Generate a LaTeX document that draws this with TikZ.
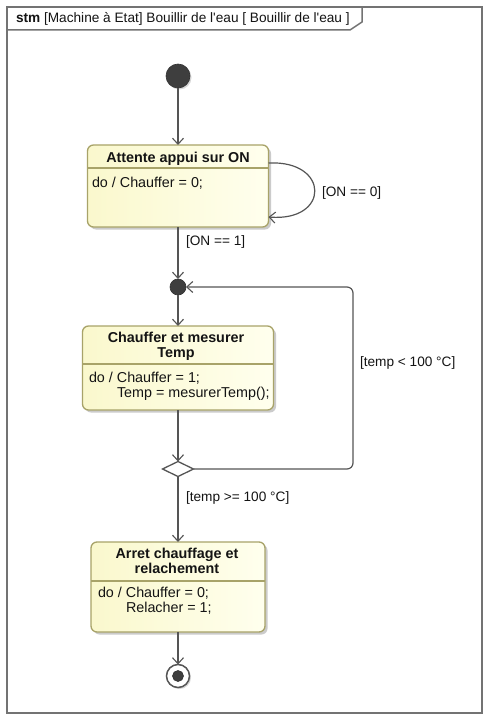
\documentclass[tikz,border=0pt]{standalone}
\usepackage{fontspec}
\setmainfont{Liberation Sans}[Ligatures=TeXOff]
\usetikzlibrary{arrows.meta,shapes.geometric,shadows}
\definecolor{linec}{RGB}{85,85,85}
\definecolor{framec}{RGB}{115,115,115}
\definecolor{stborder}{RGB}{168,163,105}
\definecolor{stfillA}{RGB}{250,248,205}
\definecolor{stfillB}{RGB}{255,255,238}
\definecolor{dotc}{RGB}{62,62,62}
\definecolor{txtc}{RGB}{20,20,20}
\begin{document}
\begin{tikzpicture}[x=1bp,y=-1bp,
  every node/.style={inner sep=0pt,outer sep=0pt,text=txtc},
  txt/.style={font=\fontsize{14.4}{16}\selectfont, anchor=base west},
  lbl/.style={font=\fontsize{13.7}{16}\selectfont, anchor=base west},
  ttl/.style={font=\bfseries\fontsize{14.4}{16}\selectfont, anchor=base},
  stbox/.style={draw=stborder, line width=1.3bp, rounded corners=6bp,
    left color=stfillA, right color=stfillB,
    drop shadow={shadow xshift=2.5bp,shadow yshift=-2.5bp,fill=black!40,opacity=0.5}},
  sepline/.style={draw=stborder, line width=1.1bp},
  trans/.style={draw=linec, line width=1.2bp, -{Straight Barb[length=6bp,width=11bp,line width=1.1bp]}},
  dotnode/.style={circle, fill=dotc, draw=dotc!80!black, line width=0.6bp},
  framestyle/.style={draw=framec, line width=1.5bp},
]
\useasboundingbox (0,0) rectangle (487,717);
\fill[white] (0,0) rectangle (487,717);

% frame
\draw[framestyle] (7,7) rectangle (482,713);
\draw[framestyle] (7,30) -- (350,30) -- (362,22) -- (362,7);
\node[lbl] (hdr) at (16,23) {\textbf{stm} [Machine à Etat] Bouillir de l'eau [ Bouillir de l'eau ]};

% initial state
\node[dotnode, minimum size=24bp,
  drop shadow={shadow xshift=1.5bp,shadow yshift=-1.5bp,fill=black!40,opacity=0.4}] (init) at (178,76) {};

% state 1
\node[stbox, minimum width=181bp, minimum height=82bp] (s1) at (178,186) {};
\draw[sepline] ([yshift=-23bp]s1.north west) -- ([yshift=-23bp]s1.north east);
\node[ttl] (t1) at (178,162) {Attente appui sur ON};
\node[txt] (b1) at (92,187) {do / Chauffer = 0;};

% junction
\node[dotnode, minimum size=16bp] (j1) at (178,287) {};

% state 2
\node[stbox, minimum width=191bp, minimum height=84bp] (s2) at (178,368) {};
\draw[sepline] ([yshift=-38bp]s2.north west) -- ([yshift=-38bp]s2.north east);
\node[ttl] (t2a) at (176,342) {Chauffer et mesurer};
\node[ttl] (t2b) at (176,357) {Temp};
\node[txt] (b2a) at (89,382) {do / Chauffer = 1;};
\node[txt] (b2b) at (117,397) {Temp = mesurerTemp();};

% choice
\node[diamond, draw=linec, fill=white, line width=1.3bp, minimum width=31bp, minimum height=15bp] (d) at (178,469) {};

% state 3
\node[stbox, minimum width=174bp, minimum height=90bp] (s3) at (178,587) {};
\draw[sepline] ([yshift=-39bp]s3.north west) -- ([yshift=-39bp]s3.north east);
\node[ttl] (t3a) at (177,558) {Arret chauffage et};
\node[ttl] (t3b) at (177,573) {relachement};
\node[txt] (b3a) at (98,597) {do / Chauffer = 0;};
\node[txt] (b3b) at (126,612) {Relacher = 1;};

% final state
\node[circle, draw=linec, fill=white, line width=1.5bp, minimum size=23bp,
  drop shadow={shadow xshift=1.5bp,shadow yshift=-1.5bp,fill=black!40,opacity=0.4}] (f) at (178,676) {};
\node[dotnode, minimum size=11bp] (fin) at (178,676) {};

% transitions
\draw[trans] (init) -- (s1);
\draw[trans] ([yshift=23bp]s1.east) .. controls (330,160) and (330,222) .. ([yshift=-31bp]s1.east);
\node[lbl] (l0) at (322,196) {[ON == 0]};
\draw[trans] (s1) -- (j1);
\node[lbl] (l1) at (186,245) {[ON == 1]};
\draw[trans] (j1) -- (s2);
\draw[trans] (s2) -- (d);
\coordinate (c1) at (353,469);
\coordinate (c2) at (353,287);
\draw[trans, rounded corners=6bp] (d.east) -- (c1) -- (c2) -- (j1);
\node[lbl] (l2) at (360,366) {[temp < 100 °C]};
\draw[trans] (d) -- (s3);
\node[lbl] (l3) at (186,501) {[temp >= 100 °C]};
\draw[trans] (s3) -- (f);
\end{tikzpicture}
\end{document}
